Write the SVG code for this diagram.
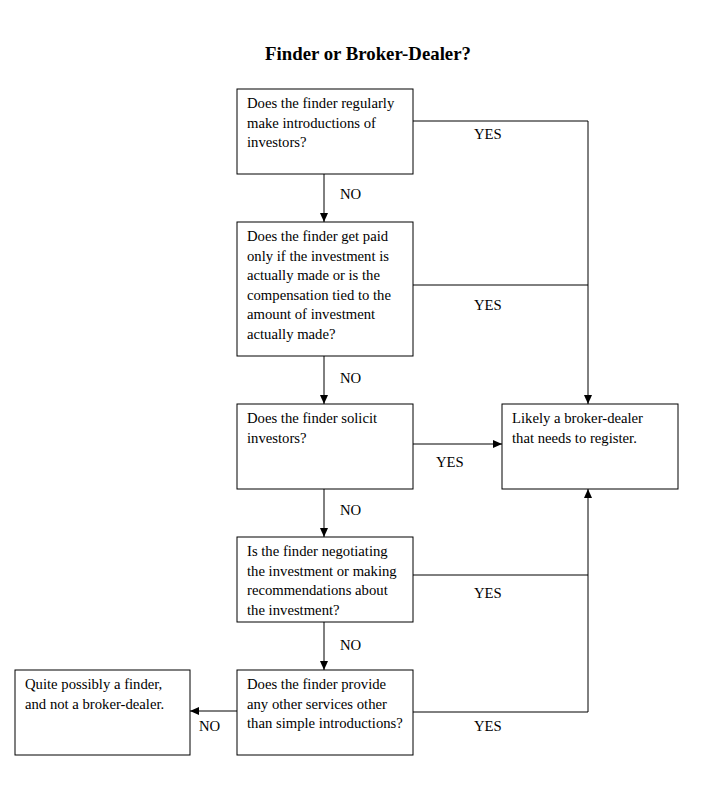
<svg xmlns="http://www.w3.org/2000/svg" width="710" height="806" viewBox="0 0 710 806">
<style>
.box{fill:#fff;stroke:#000;stroke-width:1}
.t{font-family:"Liberation Serif","Times New Roman",serif;font-size:14.7px;fill:#000}
.title{font-family:"Liberation Serif","Times New Roman",serif;font-size:18.8px;font-weight:bold;fill:#000}
.c{fill:none;stroke:#000;stroke-width:1}
</style>
<defs>
<marker id="ah" markerWidth="10" markerHeight="10" refX="9" refY="5" orient="auto" markerUnits="userSpaceOnUse">
<path d="M0,1 L9,5 L0,9 Z" fill="#000"/>
</marker>
</defs>
<rect width="710" height="806" fill="#fff"/>
<text class="title" x="368" y="60" text-anchor="middle">Finder or Broker-Dealer?</text>
<g id="connectors">
<path class="c" d="M413,121 H588 V404" marker-end="url(#ah)"/>
<path class="c" d="M413,285 H588"/>
<path class="c" d="M413,444 H502" marker-end="url(#ah)"/>
<path class="c" d="M413,575 H588"/>
<path class="c" d="M413,712 H588 V489" marker-end="url(#ah)"/>
<path class="c" d="M237,711 H190" marker-end="url(#ah)"/>
<path class="c" d="M324,174 V222" marker-end="url(#ah)"/>
<path class="c" d="M324,356 V404" marker-end="url(#ah)"/>
<path class="c" d="M324,489 V537" marker-end="url(#ah)"/>
<path class="c" d="M324,622 V670" marker-end="url(#ah)"/>
<text class="t" x="340" y="199">NO</text>
<text class="t" x="474" y="139">YES</text>
<text class="t" x="474" y="310">YES</text>
<text class="t" x="340" y="383">NO</text>
<text class="t" x="436" y="467">YES</text>
<text class="t" x="340" y="515">NO</text>
<text class="t" x="474" y="598">YES</text>
<text class="t" x="340" y="650">NO</text>
<text class="t" x="474" y="731">YES</text>
<text class="t" x="199" y="731">NO</text>
</g>
<g id="q1">
<rect class="box" x="237" y="89" width="176" height="85"/>
<text class="t" x="247" y="108">Does the finder regularly</text>
<text class="t" x="247" y="127.5">make introductions of</text>
<text class="t" x="247" y="147">investors?</text>
</g>
<g id="q2">
<rect class="box" x="237" y="222" width="176" height="134"/>
<text class="t" x="247" y="241">Does the finder get paid</text>
<text class="t" x="247" y="260.5">only if the investment is</text>
<text class="t" x="247" y="280">actually made or is the</text>
<text class="t" x="247" y="299.5">compensation tied to the</text>
<text class="t" x="247" y="319">amount of investment</text>
<text class="t" x="247" y="338.5">actually made?</text>
</g>
<g id="q3">
<rect class="box" x="237" y="404" width="176" height="85"/>
<text class="t" x="247" y="423">Does the finder solicit</text>
<text class="t" x="247" y="442.5">investors?</text>
</g>
<g id="bd">
<rect class="box" x="502" y="404" width="176" height="85"/>
<text class="t" x="512" y="423">Likely a broker-dealer</text>
<text class="t" x="512" y="442.5">that needs to register.</text>
</g>
<g id="q4">
<rect class="box" x="237" y="537" width="176" height="85"/>
<text class="t" x="247" y="556">Is the finder negotiating</text>
<text class="t" x="247" y="575.5">the investment or making</text>
<text class="t" x="247" y="595">recommendations about</text>
<text class="t" x="247" y="614.5">the investment?</text>
</g>
<g id="q5">
<rect class="box" x="237" y="670" width="176" height="85"/>
<text class="t" x="247" y="689">Does the finder provide</text>
<text class="t" x="247" y="708.5">any other services other</text>
<text class="t" x="247" y="728">than simple introductions?</text>
</g>
<g id="finder">
<rect class="box" x="15" y="670" width="175" height="85"/>
<text class="t" x="25" y="689">Quite possibly a finder,</text>
<text class="t" x="25" y="708.5">and not a broker-dealer.</text>
</g>
</svg>
